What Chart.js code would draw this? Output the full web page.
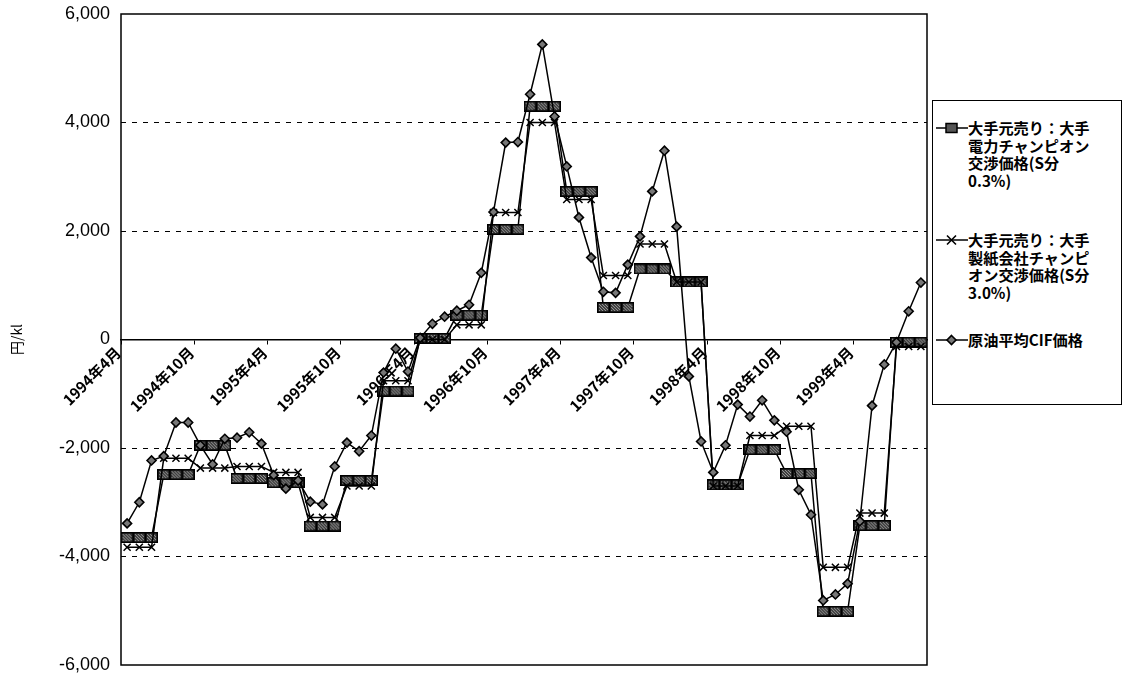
<!DOCTYPE html>
<html>
<head>
<meta charset="utf-8">
<script src="https://cdn.jsdelivr.net/npm/chart.js@4.4.1/dist/chart.umd.min.js"></script>
<style>
  html, body { margin: 0; padding: 0; background: #fff; }
  #wrap { position: relative; width: 1127px; height: 677px; overflow: hidden; }
  #c { position: absolute; left: 0; top: 0; }
  #legend {
    position: absolute; left: 932px; top: 100px; width: 190px; height: 305px;
    border: 1px solid #000; box-sizing: border-box; background: #fff;
    font-family: "Noto Sans CJK JP", sans-serif; font-size: 15.2px; font-weight: bold;
    line-height: 17.5px; color: #000;
  }
  .item { position: absolute; left: 0; width: 100%; }
  .item svg { position: absolute; left: 3px; top: 0; }
  .item .txt { position: absolute; left: 35px; top: 0; white-space: nowrap; }
</style>
</head>
<body>
<div id="wrap">
  <canvas id="c" width="1127" height="677"></canvas>
  <div id="legend">
    <div class="item" style="top:18px">
      <svg width="32" height="18"><line x1="0" y1="9" x2="32" y2="9" stroke="#000" stroke-width="1.5"/><rect x="10" y="4.5" width="11" height="9" fill="#555" stroke="#000" stroke-width="1.5"/></svg>
      <div class="txt">大手元売り：大手<br>電力チャンピオン<br>交渉価格(S分<br>0.3%)</div>
    </div>
    <div class="item" style="top:130px">
      <svg width="32" height="18"><line x1="0" y1="9" x2="32" y2="9" stroke="#000" stroke-width="1.5"/><path d="M11 4.5 L20 13.5 M20 4.5 L11 13.5" stroke="#000" stroke-width="1.6"/></svg>
      <div class="txt">大手元売り：大手<br>製紙会社チャンピ<br>オン交渉価格(S分<br>3.0%)</div>
    </div>
    <div class="item" style="top:230px">
      <svg width="32" height="18"><line x1="0" y1="9" x2="32" y2="9" stroke="#000" stroke-width="1.5"/><path d="M15.5 4.5 L20 9 L15.5 13.5 L11 9 Z" fill="#777" stroke="#000" stroke-width="1.6"/></svg>
      <div class="txt">原油平均CIF価格</div>
    </div>
  </div>
</div>
<script>
// Monthly categories, April 1994 – September 1999
const months = [
  '1994年4月','1994年5月','1994年6月','1994年7月','1994年8月','1994年9月',
  '1994年10月','1994年11月','1994年12月','1995年1月','1995年2月','1995年3月',
  '1995年4月','1995年5月','1995年6月','1995年7月','1995年8月','1995年9月',
  '1995年10月','1995年11月','1995年12月','1996年1月','1996年2月','1996年3月',
  '1996年4月','1996年5月','1996年6月','1996年7月','1996年8月','1996年9月',
  '1996年10月','1996年11月','1996年12月','1997年1月','1997年2月','1997年3月',
  '1997年4月','1997年5月','1997年6月','1997年7月','1997年8月','1997年9月',
  '1997年10月','1997年11月','1997年12月','1998年1月','1998年2月','1998年3月',
  '1998年4月','1998年5月','1998年6月','1998年7月','1998年8月','1998年9月',
  '1998年10月','1998年11月','1998年12月','1999年1月','1999年2月','1999年3月',
  '1999年4月','1999年5月','1999年6月','1999年7月','1999年8月','1999年9月'
];

// 大手元売り:大手電力チャンピオン交渉価格 (quarterly price, held for each month of the quarter)
const powerChampion = [
  -3650, -3650, -3650,  -2490, -2490, -2490,  -1950, -1950, -1950,  -2560, -2560, -2560,
  -2640, -2640, -2640,  -3440, -3440, -3440,  -2600, -2600, -2600,   -950,  -950,  -950,
     20,    20,    20,    450,   450,   450,   2030,  2030,  2030,   4300,  4300,  4300,
   2730,  2730,  2730,    590,   590,   590,   1300,  1300,  1300,   1060,  1060,  1060,
  -2680, -2680, -2680,  -2030, -2030, -2030,  -2470, -2470, -2470,  -5010, -5010, -5010,
  -3430, -3430, -3430,    -50,   -50,   -50
];

// 大手元売り:大手製紙会社チャンピオン交渉価格
const paperChampion = [
  -3830, -3830, -3830,  -2190, -2190, -2190,  -2370, -2370, -2370,  -2340, -2340, -2340,
  -2450, -2450, -2450,  -3280, -3280, -3280,  -2700, -2700, -2700,   -760,  -760,  -760,
      0,     0,     0,    270,   270,   270,   2340,  2340,  2340,   4000,  4000,  4000,
   2580,  2580,  2580,   1180,  1180,  1180,   1760,  1760,  1760,   1060,  1060,  1060,
  -2700, -2700, -2700,  -1770, -1770, -1770,  -1600, -1600, -1600,  -4200, -4200, -4200,
  -3200, -3200, -3200,   -130,  -130,  -130
];

// 原油平均CIF価格 (monthly)
const crudeCif = [
  -3390, -3000, -2230, -2150, -1530, -1530, -1950, -2300, -1830, -1810, -1710, -1920,
  -2500, -2750, -2600, -2990, -3040, -2340, -1900, -2060, -1770,  -610,  -170,  -590,
     30,   290,   420,   530,   640,  1230,  2350,  3630,  3640,  4520,  5440,  4110,
   3190,  2250,  1510,   880,   860,  1380,  1900,  2730,  3480,  2080,  -680, -1880,
  -2450, -1950, -1200, -1420, -1120, -1490, -1700, -2770, -3230, -4810, -4700, -4500,
  -3350, -1220,  -460,   -50,   520,  1050
];

const yTicks = [-6000, -4000, -2000, 0, 2000, 4000, 6000];

// Box-shaped marker for the power-company series
function makeBoxMarker() {
  const cv = document.createElement('canvas');
  cv.width = 13; cv.height = 11;
  const g = cv.getContext('2d');
  g.fillStyle = '#3c3c3c';
  g.fillRect(0, 0, 13, 11);
  g.fillStyle = '#9a9a9a';
  for (let yy = 2; yy < 9; yy++) {
    for (let xx = 2; xx < 11; xx++) {
      if ((xx + 2 * yy) % 3 === 0) g.fillRect(xx, yy, 1, 1);
    }
  }
  g.strokeStyle = '#000';
  g.lineWidth = 1.5;
  g.strokeRect(0.75, 0.75, 11.5, 9.5);
  return cv;
}

// Outline around the plot area
const plotFrame = {
  id: 'plotFrame',
  beforeDatasetsDraw(chart) {
    const { left, top, right, bottom } = chart.chartArea;
    const ctx = chart.ctx;
    ctx.save();
    ctx.strokeStyle = '#000';
    ctx.lineWidth = 1.5;
    ctx.strokeRect(left, top, right - left, bottom - top);
    ctx.restore();
  }
};

new Chart(document.getElementById('c'), {
  type: 'line',
  data: {
    labels: months,
    datasets: [
      {
        label: '大手元売り:大手電力チャンピオン交渉価格(S分0.3%)',
        data: powerChampion,
        borderColor: '#000', borderWidth: 1.5,
        pointStyle: makeBoxMarker(),
        pointRadius: 6,
        order: 3
      },
      {
        label: '大手元売り:大手製紙会社チャンピオン交渉価格(S分3.0%)',
        data: paperChampion,
        borderColor: '#000', borderWidth: 1.5,
        pointStyle: 'crossRot', pointRadius: 5,
        pointBorderColor: '#000', pointBorderWidth: 1.5,
        order: 2
      },
      {
        label: '原油平均CIF価格',
        data: crudeCif,
        borderColor: '#000', borderWidth: 1.5,
        pointStyle: 'rectRot', pointRadius: 4.5,
        pointBackgroundColor: '#777', pointBorderColor: '#000', pointBorderWidth: 1.6,
        order: 1
      }
    ]
  },
  options: {
    responsive: false,
    animation: false,
    events: [],
    layout: { padding: { left: 0, top: 14, right: 200, bottom: 12 } },
    plugins: { legend: { display: false }, tooltip: { enabled: false } },
    elements: { line: { tension: 0 } },
    scales: {
      x: {
        type: 'category',
        position: { y: 0 },
        offset: true,
        grid: {
          drawOnChartArea: false,
          offset: true,
          tickLength: 4,
          lineWidth: 1,
          tickColor: (c) => (c.index % 6 === 0 ? '#000' : 'rgba(0,0,0,0)')
        },
        border: { display: true, color: '#000', width: 1.5 },
        ticks: {
          autoSkip: false,
          minRotation: 45,
          maxRotation: 45,
          labelOffset: -9,
          padding: 0,
          color: '#000',
          font: { family: '"Noto Sans CJK JP"', size: 15, weight: 'bold' },
          callback(value, index) {
            return index % 6 === 0 ? this.getLabelForValue(value) : '';
          }
        },
        afterFit(scale) { scale.paddingLeft = 0; scale.paddingRight = 0; }
      },
      y: {
        min: yTicks[0],
        max: yTicks[yTicks.length - 1],
        afterBuildTicks(scale) { scale.ticks = yTicks.map(v => ({ value: v })); },
        afterFit(scale) {
          scale.width = 121;
          scale.paddingTop = 0;
          scale.paddingBottom = 0;
        },
        grid: {
          drawTicks: false,
          lineWidth: 1,
          color: (c) => {
            const v = c.tick ? Math.abs(c.tick.value) : 0;
            return (v === 2000 || v === 4000) ? '#000' : 'rgba(0,0,0,0)';
          }
        },
        border: { display: false, dash: [5, 6] },
        ticks: {
          padding: 11,
          color: '#000',
          font: { family: '"Liberation Sans", Arial, sans-serif', size: 18 },
          callback: (v) => Number(v).toLocaleString('en-US')
        },
        title: {
          display: true,
          text: '円/kl',
          color: '#000',
          font: { family: '"Noto Sans CJK JP"', size: 14 },
          padding: { top: 8, bottom: 0 }
        }
      }
    }
  },
  plugins: [plotFrame]
});
</script>
</body>
</html>
